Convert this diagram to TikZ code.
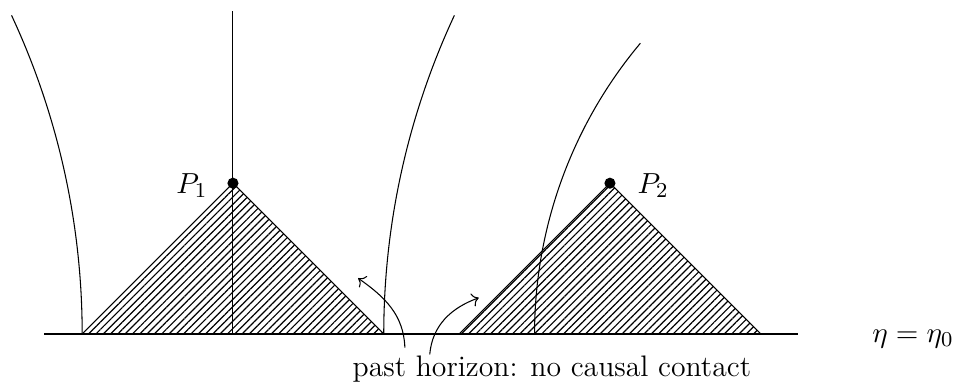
\documentclass[tikz,border=0pt]{standalone}
\usetikzlibrary{patterns.meta,arrows.meta}
\begin{document}
\begin{tikzpicture}[x=1cm,y=1cm,
  every node/.style={font=\fontsize{11.2}{13}\selectfont},
  thinline/.style={line width=0.4pt},
  hatched/.style={thinline,pattern={Lines[angle=45,distance=1.95pt,line width=0.45pt]}},
  event/.style={circle,fill=black,inner sep=0pt,minimum size=4.2pt},
  lbl/.style={inner sep=0pt},
  pointer/.style={thinline,->}]
\useasboundingbox (-3.09,-0.69) rectangle (9.59,4.43);
% past light cones
\draw[hatched] (-2,0) -- (0,2) -- (2,0);
\draw[hatched] (3,0) -- (5,2) -- (7,0);
% initial hypersurface
\draw[thinline] (-2.5,0) -- (7.5,0);
% worldlines
\draw[thinline] (0,0) -- (0,4.29);
\draw[thinline] (-2,0) arc[start angle=0,end angle=25,radius=10];
\draw[thinline] (2,0) arc[start angle=180,end angle=155,radius=10];
\draw[thinline] (4,0) arc[start angle=180,end angle=140,radius=6];
% events
\node[event] (P1) at (0,2) {};
\node[event] (P2) at (5,2) {};
\node[lbl,anchor=base east] (P1l) at (-0.33,1.87) {$P_1$};
\node[lbl,anchor=base west] (P2l) at (5.36,1.87) {$P_2$};
\node[lbl,anchor=base] (eta) at (9.02,-0.11) {$\eta=\eta_0$};
\node[lbl,anchor=base] (txt) at (4.23,-0.57) {past horizon: no causal contact};
% pointers
\coordinate (s1) at (2.28,-0.18);
\coordinate (t1) at (1.66,0.74);
\coordinate (s2) at (2.61,-0.27);
\coordinate (t2) at (3.26,0.48);
\draw[pointer] (s1) to[out=92,in=-35] (t1);
\draw[pointer] (s2) to[out=85,in=200] (t2);
\end{tikzpicture}
\end{document}
